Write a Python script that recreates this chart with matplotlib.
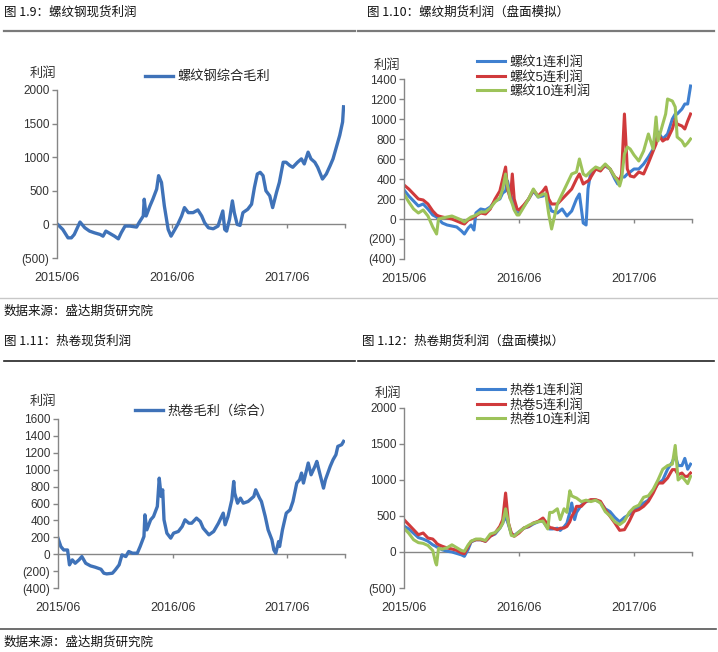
import matplotlib
matplotlib.use('Agg')
import matplotlib.pyplot as plt
from matplotlib.lines import Line2D
from matplotlib.ticker import FuncFormatter

plt.rcParams['font.family'] = ['Liberation Sans', 'Noto Sans CJK SC']

# ---------------- data (x = months since 2015/06) ----------------
x_tick_months = [0, 12, 24]
x_tick_labels = ['2015/06', '2016/06', '2017/06']

rb_spot_months = [0, 0.6, 1.15, 1.5, 1.8, 2.4, 2.9, 3.4, 3.9, 4.5, 4.8, 5.1, 5.7, 6.0, 6.4,
                  6.7, 7.1, 7.6, 8.3, 8.6, 9.0, 9.1, 9.3, 9.7, 10.0, 10.4, 10.6, 10.9, 11.2, 11.6,
                  11.9, 12.3, 12.6, 13.0, 13.3, 13.7, 14.2, 14.7, 15.1, 15.4, 15.8, 16.3, 16.8, 17.3, 17.5,
                  17.7, 18.0, 18.3, 18.5, 18.8, 19.1, 19.4, 19.9, 20.3, 20.6, 20.9, 21.2, 21.5, 21.8, 22.2,
                  22.5, 22.9, 23.2, 23.6, 23.9, 24.3, 24.6, 25.1, 25.5, 25.8, 26.2, 26.5, 26.9, 27.2, 27.7,
                  28.1, 28.5, 28.8, 29.2, 29.5, 29.8, 29.9]
rb_spot_profit = [10, -75, -200, -200, -150, 35, -50, -100, -125, -150, -175, -100, -150, -175, -215,
                  -125, -25, -25, -40, 35, 125, 375, 125, 275, 375, 525, 725, 625, 275, -75,
                  -175, -75, 0, 125, 250, 175, 175, 215, 125, 25, -50, -65, -25, 200, -75,
                  -100, 75, 350, 175, 0, -15, 175, 225, 300, 550, 750, 775, 725, 500, 425,
                  250, 475, 625, 925, 925, 875, 850, 925, 975, 900, 1075, 975, 925, 850, 675,
                  750, 875, 975, 1175, 1325, 1525, 1750]

rb_fut_months = [0, 0.5, 1, 1.5, 2, 2.5, 3, 3.4, 3.6, 4, 4.5, 5, 5.5, 6, 6.3, 6.7, 7, 7.3, 7.5, 8,
                 8.5, 9, 9.5, 10, 10.3, 10.6, 10.8, 11.1, 11.3, 11.5, 11.8, 12, 12.5, 13, 13.5,
                 14, 14.5, 14.8, 15.1, 15.4, 16, 16.5, 17, 17.5, 18, 18.3, 18.7, 19, 19.2, 19.4,
                 19.5, 20, 20.5, 21, 21.5, 22, 22.3, 22.5, 22.7, 23, 23.3, 23.6, 24, 24.5, 25,
                 25.5, 26, 26.3, 26.5, 27, 27.3, 27.5, 28, 28.3, 28.5, 29, 29.3, 29.6, 29.9]
rb_fut_1 = [290, 230, 180, 130, 150, 100, 40, 20, 0, -40, -60, -70, -80, -120, -150,
            -90, -60, -110, 60, 100, 90, 120, 180, 200, 260, 280, 380, 250, 200, 100,
            60, 60, 130, 200, 280, 220, 230, 250, 150, 80, 60, 100, 30, 80, 200,
            250, -40, -60, 300, 420, 450, 500, 500, 530, 500, 400, 350, 380, 420, 420,
            450, 470, 500, 500, 550, 620, 700, 780, 870, 800, 830, 850, 1000, 1050, 1050,
            1100, 1150, 1150, 1330]
rb_fut_5 = [340, 300, 250, 200, 190, 150, 80, 40, 30, 20, 10, 0, -20, -40, -50,
            -10, 0, 20, 30, 60, 50, 100, 200, 280, 400, 520, 300, 200, 450, 200,
            100, 90, 140, 200, 290, 230, 280, 320, 200, 150, 150, 200, 250, 300, 400,
            450, 350, 370, 380, 400, 420, 500, 480, 540, 500, 420, 400, 380, 450, 1050,
            500, 430, 420, 470, 450, 560, 680, 750, 850, 780, 800, 800, 900, 1000, 950,
            930, 900, 980, 1050]
rb_fut_10 = [250, 170, 100, 60, 90, 30, -80, -150, 0, 10, 20, 30, 10, -10, -30,
             0, 20, 30, 40, 70, 70, 110, 170, 210, 300, 450, 330, 200, 150, 90,
             40, 40, 120, 200, 300, 220, 250, 250, 50, -100, 150, 250, 350, 450, 470,
             600, 450, 430, 450, 470, 480, 520, 500, 550, 500, 420, 380, 330, 400, 650,
             720, 700, 640, 580, 680, 850, 700, 1020, 780, 950, 1050, 1200, 1180, 1120, 820,
             780, 730, 760, 800]

hc_spot_months = [0, 0.3, 0.6, 1.0, 1.2, 1.5, 1.8, 2.2, 2.5, 2.9, 3.4, 3.9, 4.5, 4.8, 5.1,
                  5.7, 6.0, 6.4, 6.7, 7.1, 7.4, 7.8, 8.3, 8.6, 9.0, 9.1, 9.3, 9.7, 10.0, 10.4,
                  10.6, 10.8, 10.96, 11.1, 11.4, 11.8, 12.1, 12.6, 13.0, 13.3, 13.7, 14.0, 14.5, 14.9, 15.2,
                  15.8, 16.3, 16.8, 17.3, 17.5, 17.8, 18.2, 18.4, 18.5, 18.8, 19.1, 19.4, 19.9, 20.5, 20.7,
                  21.1, 21.3, 21.7, 22.0, 22.4, 22.6, 22.8, 23.1, 23.2, 23.5, 23.9, 24.3, 24.6, 25.0, 25.3,
                  25.5, 25.7, 26.2, 26.5, 26.9, 27.1, 27.4, 27.8, 28.0, 28.5, 28.8, 29.1, 29.3, 29.7, 29.9]
hc_spot_profit = [190, 90, 50, 50, -126, -67, -107, -67, -28, -107, -138, -154, -178, -225, -233,
                  -225, -186, -126, -8, -28, 32, 12, 12, 91, 210, 466, 288, 407, 446, 565,
                  900, 683, 762, 407, 249, 190, 249, 269, 328, 407, 367, 367, 427, 387, 308,
                  229, 269, 367, 486, 348, 446, 644, 861, 723, 604, 664, 604, 624, 683, 762,
                  664, 624, 446, 288, 170, 51, 12, 150, 91, 288, 486, 525, 624, 842, 881,
                  960, 842, 1079, 940, 1039, 1098, 960, 782, 881, 1039, 1118, 1177, 1276, 1296, 1335]

hc_fut_months = [0, 0.5, 1, 1.5, 2, 2.5, 3, 3.3, 3.4, 3.6, 4, 4.5, 5, 5.5, 6, 6.3, 6.7, 7, 7.5, 8,
                 8.5, 9, 9.5, 10, 10.3, 10.6, 10.9, 11.2, 11.5, 12, 12.5, 13, 13.5, 14, 14.5,
                 15, 15.2, 15.5, 16, 16.3, 16.7, 17, 17.3, 17.5, 17.8, 18, 18.5, 19, 19.5, 20,
                 20.5, 21, 21.5, 22, 22.5, 23, 23.5, 24, 24.5, 25, 25.5, 26, 26.5, 27, 27.5,
                 28, 28.3, 28.6, 29, 29.3, 29.6, 29.9]
hc_fut_1 = [360, 320, 260, 200, 180, 150, 100, 80, 70, 60, 30, 10, 0, -20, -40,
            -60, 40, 140, 170, 170, 150, 220, 250, 330, 400, 500, 380, 250, 230, 280,
            330, 350, 390, 420, 430, 330, 320, 320, 330, 300, 350, 400, 550, 680, 450,
            550, 650, 700, 720, 720, 690, 600, 560, 480, 420, 480, 520, 600, 620, 680,
            720, 850, 950, 1000, 1150, 1250, 1350, 1200, 1200, 1300, 1150, 1220]
hc_fut_5 = [449, 380, 310, 240, 264, 194, 180, 140, 120, 102, 79, 56, 42, 23, -14,
            -23, 79, 148, 171, 171, 148, 218, 264, 356, 449, 819, 403, 264, 218, 264,
            333, 356, 403, 426, 472, 380, 340, 333, 310, 330, 333, 356, 420, 495, 560,
            634, 634, 704, 727, 727, 704, 588, 495, 403, 301, 310, 426, 565, 588, 634,
            704, 819, 958, 958, 1028, 1144, 1144, 1074, 1097, 1051, 1051, 1097]
hc_fut_10 = [330, 260, 170, 130, 120, 90, 20, -150, -180, 50, 40, 60, 100, 60, 20,
             10, 100, 150, 180, 180, 160, 250, 270, 330, 400, 600, 400, 230, 220, 280,
             330, 370, 400, 420, 430, 320, 550, 550, 600, 450, 600, 550, 850, 780, 760,
             750, 700, 720, 700, 720, 680, 560, 500, 420, 380, 430, 550, 620, 650, 760,
             780, 870, 1000, 1150, 1200, 1220, 1480, 1000, 1050, 1000, 950, 1050]

# ---------------- styling ----------------
W, H = 718, 652
fig = plt.figure(figsize=(W / 100, H / 100), dpi=100)
GRAY = '#868686'
TXT = '#333333'
C_SPOT = '#3F72B8'
C_BLUE = '#3F80D0'
C_RED = '#D03A3C'
C_GREEN = '#9DC35A'
CJK = ['Noto Sans CJK SC', 'DejaVu Sans']
XMAX = 30.05


def fx(px):
    return px / W


def fy(py):
    return 1 - py / H


def yfmt(v, p):
    v = int(round(v))
    return f'({abs(v)})' if v < 0 else f'{v}'


def panel(left, top, right, bottom, ylim, yticks, series, ylabel_xy, legend_xy, lw):
    ax = fig.add_axes([fx(left), fy(bottom), fx(right) - fx(left), fy(top) - fy(bottom)])
    handles = []
    for months, vals, col, lab in series:
        h, = ax.plot(months, vals, color=col, lw=lw, solid_joinstyle='round', label=lab)
        handles.append(h)
    ax.set_xlim(0, XMAX)
    ax.set_ylim(*ylim)
    ax.set_yticks(yticks)
    ax.yaxis.set_major_formatter(FuncFormatter(yfmt))
    for s in ['top', 'right', 'bottom']:
        ax.spines[s].set_visible(False)
    ax.spines['left'].set_color(GRAY)
    ax.spines['left'].set_linewidth(1)
    ax.tick_params(axis='y', length=3.5, width=1, color=GRAY, labelcolor=TXT,
                   labelsize=8.5, pad=2)
    ax.set_xticks(x_tick_months)
    ax.set_xticklabels(x_tick_labels)
    ax.tick_params(axis='x', length=0, labelcolor=TXT, labelsize=9, pad=10)
    # zero line acting as horizontal axis
    loc = -ylim[0] / (ylim[1] - ylim[0])
    sec = ax.secondary_xaxis(loc)
    sec.set_xticks(x_tick_months[1:] + [XMAX])
    sec.tick_params(axis='x', length=3, width=1, color=GRAY, labelbottom=False, direction='out')
    sec.spines['bottom'].set_color(GRAY)
    sec.spines['bottom'].set_linewidth(1)
    ax.set_zorder(2)
    ax.patch.set_alpha(0)
    fig.text(fx(ylabel_xy[0]), fy(ylabel_xy[1]), '利润', family=CJK, fontsize=9.5,
             color=TXT, ha='left', va='center')
    leg = ax.legend(handles=handles, loc='center left',
                    bbox_to_anchor=(fx(legend_xy[0]), fy(legend_xy[1])),
                    bbox_transform=fig.transFigure, frameon=False, borderpad=0,
                    borderaxespad=0, handlelength=2.1, handletextpad=0.35,
                    labelspacing=0.12, prop={'family': ['Liberation Sans', 'Noto Sans CJK SC'],
                                            'size': 9.5})
    for t in leg.get_texts():
        t.set_color('#222222')
    return ax


panel(57, 90, 345, 258, (-500, 2000), [-500, 0, 500, 1000, 1500, 2000],
      [(rb_spot_months, rb_spot_profit, C_SPOT, '螺纹钢综合毛利')],
      (30, 73), (145, 77), 2.4)

panel(404, 79, 692, 259, (-400, 1400), list(range(-400, 1401, 200)),
      [(rb_fut_months, rb_fut_1, C_BLUE, '螺纹1连利润'),
       (rb_fut_months, rb_fut_5, C_RED, '螺纹5连利润'),
       (rb_fut_months, rb_fut_10, C_GREEN, '螺纹10连利润')],
      (374, 66), (477, 77), 2.2)

panel(58, 419, 345, 588, (-400, 1600), list(range(-400, 1601, 200)),
      [(hc_spot_months, hc_spot_profit, C_SPOT, '热卷毛利（综合）')],
      (30, 401), (135, 411), 2.4)

panel(404, 408, 692, 588, (-500, 2000), [-500, 0, 500, 1000, 1500, 2000],
      [(hc_fut_months, hc_fut_1, C_BLUE, '热卷1连利润'),
       (hc_fut_months, hc_fut_5, C_RED, '热卷5连利润'),
       (hc_fut_months, hc_fut_10, C_GREEN, '热卷10连利润')],
      (375, 394), (477, 405), 2.2)

# ---------------- titles, rules, sources ----------------
def ftext(px, py, s, size=9):
    fig.text(fx(px), fy(py), s, family=CJK, fontsize=size, color='#111111',
             ha='left', va='center')


ftext(4, 12, '图 1.9：螺纹钢现货利润')
ftext(367, 12, '图 1.10：螺纹期货利润（盘面模拟）')
ftext(4, 341, '图 1.11：热卷现货利润')
ftext(362, 341, '图 1.12：热卷期货利润（盘面模拟）')
ftext(4, 311, '数据来源：盛达期货研究院')
ftext(4, 642, '数据来源：盛达期货研究院')


def hrule(x0, x1, py, color, lw):
    fig.add_artist(Line2D([fx(x0), fx(x1)], [fy(py), fy(py)], transform=fig.transFigure,
                          color=color, lw=lw))


hrule(4, 355, 31, '#7a7a7a', 1.6)
hrule(358, 714, 31, '#7a7a7a', 1.6)
hrule(0, 718, 298, '#c8c8c8', 1.0)
hrule(4, 355, 361, '#222222', 1.2)
hrule(358, 714, 361, '#222222', 1.2)
hrule(0, 716, 629, '#555555', 1.2)

fig.savefig('out.png', dpi=100, facecolor='white')
